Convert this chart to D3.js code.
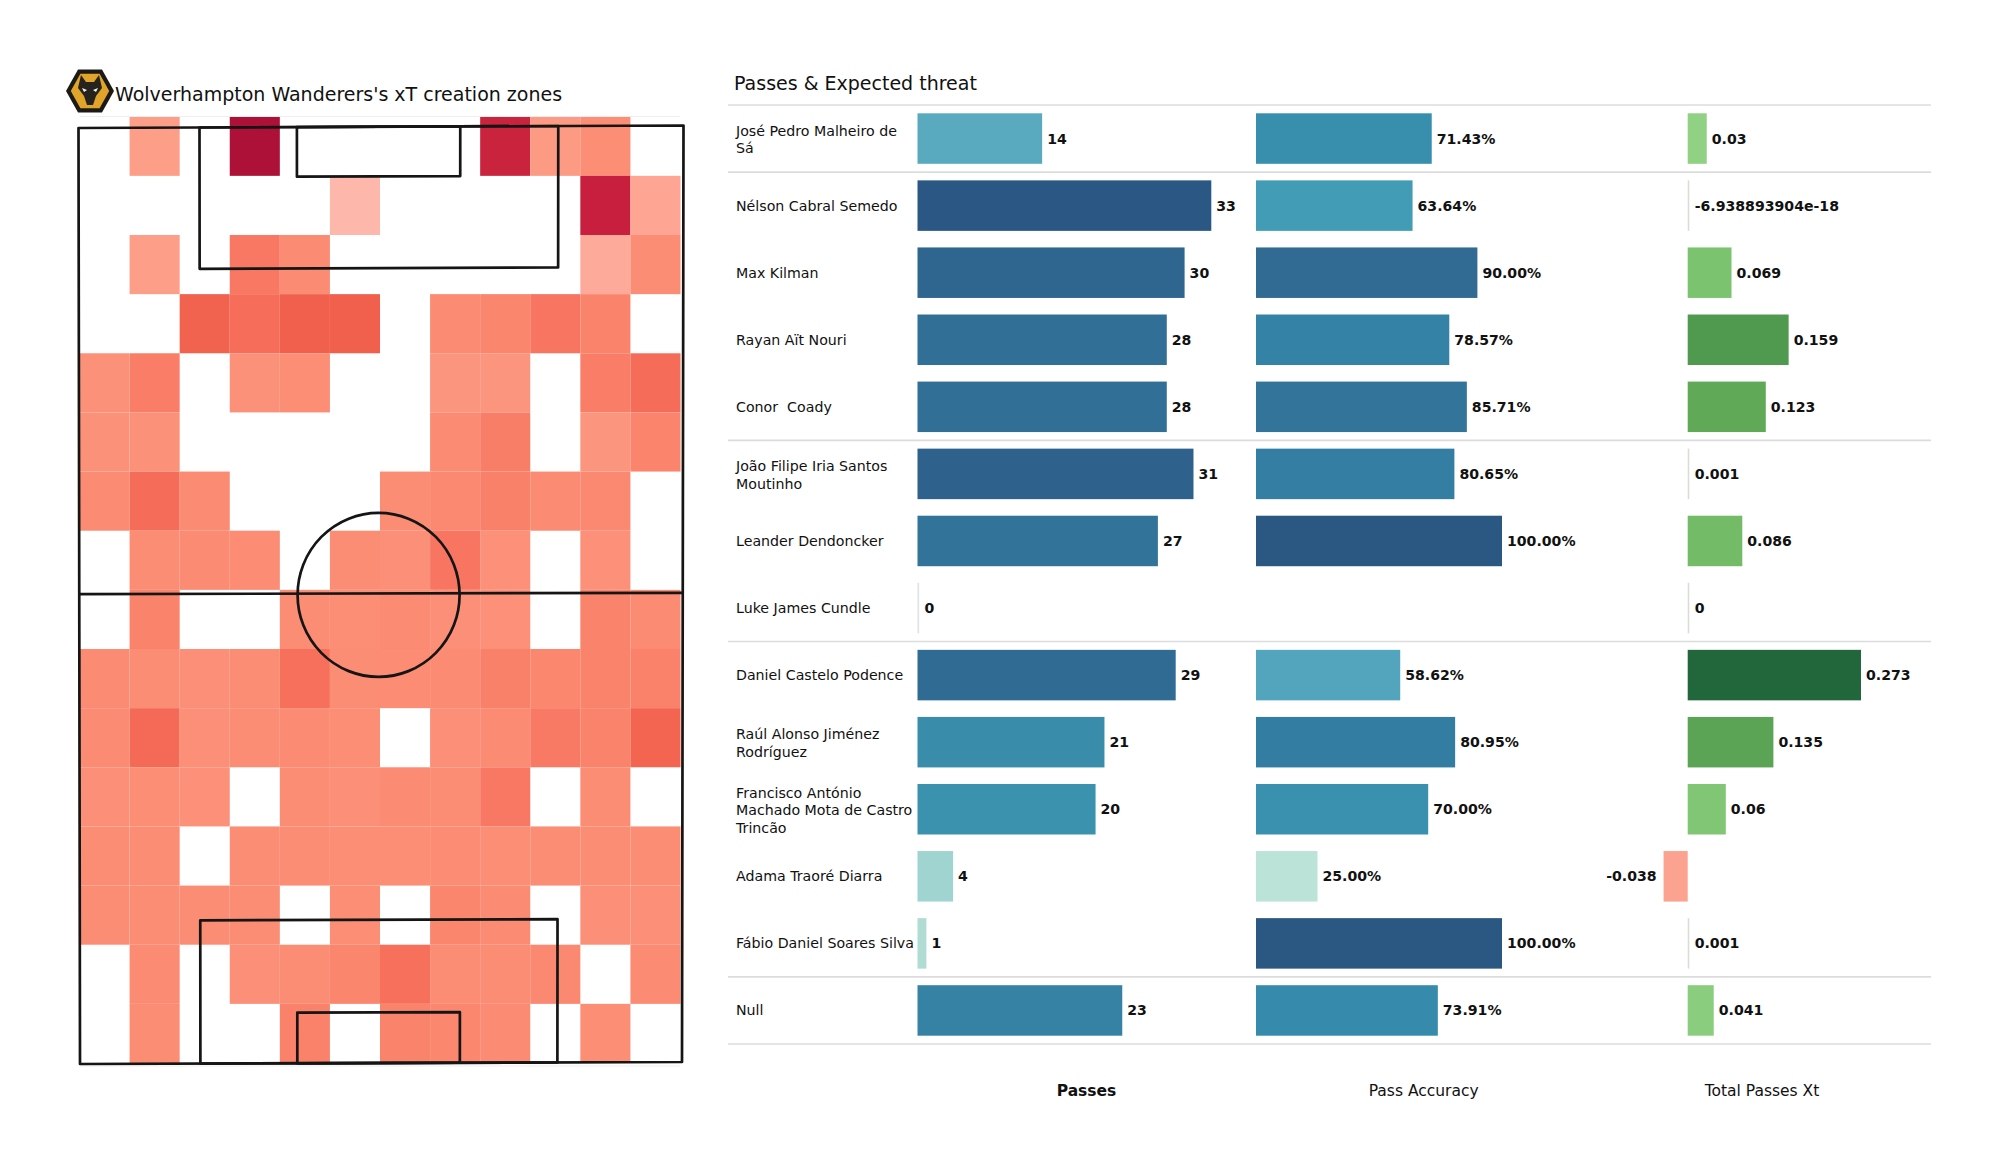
<!DOCTYPE html>
<html><head><meta charset="utf-8">
<script src="https://cdn.jsdelivr.net/npm/d3@7"></script>
<style>html,body{margin:0;padding:0;background:#fff}svg{display:block}text{font-family:"DejaVu Sans";fill:#111;white-space:pre}</style>
</head><body><svg id="c" width="2000" height="1175"></svg>
<script>
const players=[["José Pedro Malheiro de","Sá"],["Nélson Cabral Semedo"],["Max Kilman"],["Rayan Aït Nouri"],["Conor  Coady"],["João Filipe Iria Santos","Moutinho"],["Leander Dendoncker"],["Luke James Cundle"],["Daniel Castelo Podence"],["Raúl Alonso Jiménez","Rodríguez"],["Francisco António","Machado Mota de Castro","Trincão"],["Adama Traoré Diarra"],["Fábio Daniel Soares Silva"],["Null"]];
const passes=[14,33,30,28,28,31,27,0,29,21,20,4,1,23];
const accuracy=[71.43,63.64,90,78.57,85.71,80.65,100,null,58.62,80.95,70,25,100,73.91];
const xt=[0.03,-6.938893904e-18,0.069,0.159,0.123,0.001,0.086,0,0.273,0.135,0.06,-0.038,0.001,0.041];
const groupEnds=[-1,0,4,7,12,13];
const headers=["Passes","Pass Accuracy","Total Passes Xt"];
const _=null;
const heat=[
[_,16,_,100,_,_,_,_,88,18,28,_],
[_,_,_,_,_,5,_,_,_,_,90,12],
[_,16,_,45,31,_,_,_,_,_,10,29],
[_,_,58,51,60,60,_,31,35,47,37,_],
[25,42,_,25,28,_,_,22,22,_,42,52],
[25,25,_,_,_,_,_,31,41,_,22,36],
[31,52,31,_,_,_,29,33,39,31,33,_],
[_,29,31,30,_,29,27,47,26,_,26,_],
[_,37,_,_,29,28,31,27,26,_,37,31],
[31,29,27,29,50,29,30,31,39,34,37,38],
[31,54,27,29,31,28,_,27,31,44,37,57],
[27,28,26,_,29,27,31,29,45,_,29,_],
[29,29,_,29,29,28,28,30,28,29,29,29],
[29,29,29,29,_,28,_,35,31,_,27,27],
[_,31,_,27,29,35,50,29,29,33,_,31],
[_,29,_,_,38,_,37,34,31,_,28,_]];
const heatStops=[5,12,18,25,29,33,38,44,50,60,90,100];
const heatColors=['#feb8ab','#fea594','#fd9a83','#fc917a','#fc8d75','#fb8870','#fa826a','#f87a65','#f6705c','#f1604c','#c71f3d','#ad1138'];
const passStops=[1,4,14,20,23,28,30,33],passColors=['#b0dcd3','#a0d4d0','#5aaabf','#3a92ae','#3682a5','#316f97','#2f6690','#2b5784'];
const accStops=[25,58.62,63.64,71.43,78.57,85.71,90,100],accColors=['#bbe3d8','#52a5bc','#429cb6','#378fad','#3482a6','#33749a','#316a92','#2b5783'];
const xtStops=[-0.038,-0.0001,0,0.03,0.069,0.123,0.159,0.273],xtColors=['#fca290','#fca290','#90d184','#90d184','#7cc36f','#60a957','#509a50','#22673c'];

const svg=d3.select('#c');
const heatX=d3.scaleBand().domain(d3.range(12)).range([79.5,680.5]);
const heatY=d3.scaleBand().domain(d3.range(16)).range([116.7,1063]);
const heatC=d3.scaleLinear().domain(heatStops).range(heatColors);
const cells=heat.flatMap((r,i)=>r.map((v,j)=>({i,j,v}))).filter(d=>d.v!==null);
svg.append('g').selectAll('rect').data(cells).join('rect')
 .attr('x',d=>heatX(d.j)).attr('y',d=>heatY(d.i)).attr('width',heatX.bandwidth()).attr('height',heatY.bandwidth()).attr('fill',d=>heatC(d.v));
svg.append('g').attr('stroke','#eeeeee').attr('stroke-width',1).selectAll('line').data([116.5,1066]).join('line')
 .attr('x1',80).attr('x2',680).attr('y1',d=>d).attr('y2',d=>d);

// pitch: the outline is very slightly keystoned in the picture, so map pitch units through its four corners
const cTL=[78.5,128],cTR=[683.5,125.5],cBR=[682,1062],cBL=[80,1064];
const unit=d3.scaleLinear().domain([0,100]).range([0,1]);
const pt=(a,b)=>{const u=unit(a),v=unit(b);return [
 (1-v)*((1-u)*cTL[0]+u*cTR[0])+v*((1-u)*cBL[0]+u*cBR[0]),
 (1-v)*((1-u)*cTL[1]+u*cTR[1])+v*((1-u)*cBL[1]+u*cBR[1])];};
const pitch=svg.append('g').attr('fill','none').attr('stroke','#151515').attr('stroke-width',2.7).attr('stroke-linejoin','round');
const pline=d3.line();
const box=(x0,x1,y0,y1)=>pitch.append('path').attr('d',pline([pt(x0,y0),pt(x1,y0),pt(x1,y1),pt(x0,y1)])+'Z');
box(0,100,0,100);box(20,79.3,0,15.1);box(36.1,63.1,0,5.3);box(20,79.3,84.7,100);box(36.1,63.1,94.6,100);
pitch.append('path').attr('d',pline([pt(0,49.8),pt(100,49.9)]));
const cc=pt(49.6,50);
pitch.append('ellipse').attr('cx',cc[0]).attr('cy',cc[1]).attr('rx',81).attr('ry',82);

// crest
const crest=svg.append('g').attr('transform','translate(90 91)');
const hex=k=>[[-24,0],[-12,-21.5],[12,-21.5],[24,0],[12,21.5],[-12,21.5]].map(p=>[p[0]*k,p[1]*k].join(',')).join(' ');
crest.append('polygon').attr('points',hex(1)).attr('fill','#1c1a16');
crest.append('polygon').attr('points',hex(0.8)).attr('fill','#e0a42a');
crest.append('path').attr('d','M-9,-16 L-4,-9 L4,-9 L9,-16 L12,-3 L6,5 L3,14 L-3,14 L-6,5 L-12,-3 Z').attr('fill','#26231f');
crest.append('path').attr('d','M-8,-3 L-3,-1 L-6,1 Z M8,-3 L3,-1 L6,1 Z').attr('fill','#f4f4f4');

svg.append('text').attr('x',115).attr('y',100.5).attr('font-size',19).text("Wolverhampton Wanderers's xT creation zones");
svg.append('text').attr('x',734).attr('y',90).attr('font-size',19).text("Passes & Expected threat");

// table
const rows=d3.scaleBand().domain(d3.range(players.length)).range([113.3,1035.7]).paddingInner(0.247);
const step=rows.step(),bh=rows.bandwidth();
svg.append('g').attr('stroke','#dcdcdc').attr('stroke-width',1.6).selectAll('line').data(groupEnds).join('line')
 .attr('x1',728).attr('x2',1931).attr('y1',d=>rows(0)+(d+1)*step-(step-bh)/2).attr('y2',d=>rows(0)+(d+1)*step-(step-bh)/2);
const names=svg.append('g').selectAll('text').data(players).join('text').attr('font-size',14.2)
 .attr('y',(d,i)=>rows(i)+bh/2+5+(d.length>1?1:0)-(d.length-1)*8.7);
names.selectAll('tspan').data(d=>d).join('tspan').attr('x',736).attr('dy',(d,i)=>i?17.4:0).text(d=>d);

const x1=d3.scaleLinear().domain([0,33]).range([917.5,1211.3]);
const x2=d3.scaleLinear().domain([0,100]).range([1256,1502]);
const x3=d3.scaleLinear().domain([0,0.273]).range([1687.7,1861]);
function column(vals,x,col,fmt,minColor){
 const g=svg.append('g');
 const data=vals.map((v,i)=>({v,i})).filter(d=>d.v!==null);
 g.selectAll('rect').data(data).join('rect')
  .attr('x',d=>Math.min(x(d.v),x(0))).attr('y',d=>rows(d.i)).attr('height',bh)
  .attr('width',d=>Math.abs(d.v)<0.0015?1.6:Math.abs(x(d.v)-x(0)))
  .attr('fill',d=>Math.abs(d.v)<0.0015?minColor:col(d.v));
 g.selectAll('text').data(data).join('text').attr('font-size',14.1).attr('font-weight','bold')
  .attr('y',d=>rows(d.i)+bh/2+5)
  .attr('text-anchor',d=>d.v<-0.001?'end':'start')
  .attr('x',d=>d.v<-0.001?x(d.v)-7:(Math.abs(d.v)<0.0015?x(0)+7:x(d.v)+5))
  .text(d=>fmt(d.v));
}
column(passes,x1,d3.scaleLinear().domain(passStops).range(passColors),d=>String(d),'#dfe3e3');
column(accuracy,x2,d3.scaleLinear().domain(accStops).range(accColors),d=>d.toFixed(2)+'%','#dfe3e3');
column(xt,x3,d3.scaleLinear().domain(xtStops).range(xtColors),d=>Math.abs(d)>0&&Math.abs(d)<1e-6?'-6.938893904e-18':String(d),'#dcdcd4');

svg.append('g').selectAll('text').data(headers).join('text').attr('font-size',15.5).attr('text-anchor','middle')
 .attr('font-weight',(d,i)=>i?'normal':'bold').attr('x',(d,i)=>[1086.5,1423.7,1762][i]).attr('y',1095.5).text(d=>d);
</script></body></html>
